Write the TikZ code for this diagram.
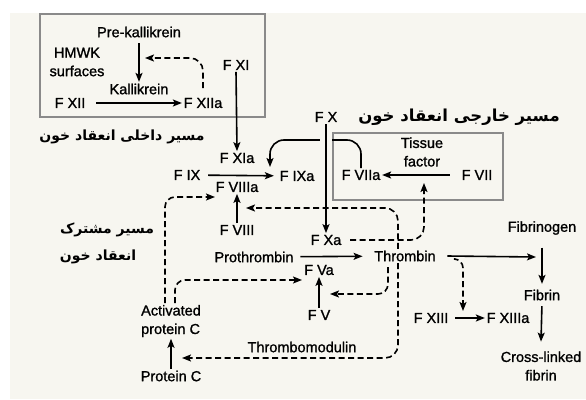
\documentclass[tikz,border=0pt]{standalone}
\usepackage{fontspec}
\setmainfont{Liberation Sans}[FakeBold=1.2]
\newfontfamily\fafont[Script=Arabic]{DejaVu Sans}
\TeXXeTstate=1
\usetikzlibrary{arrows.meta}
\definecolor{paper}{HTML}{F7F6F0}
\definecolor{frame}{HTML}{8A8A8A}
\tikzset{x=1pt, y=-1pt,
  every node/.style={font=\fontsize{14.5}{18.5}\selectfont, inner sep=1pt, align=center},
  every path/.style={line width=1.6pt},
  tip/.style={-{Stealth[length=9pt, width=7pt, inset=2pt]}},
  dash line/.style={tip, dash pattern=on 6pt off 3.5pt, rounded corners=13pt},
  fa/.style={font=\fafont\bfseries\fontsize{14}{16}\selectfont},
  frame/.style={draw=frame, line width=1.1pt}}

\begin{document}
\begin{tikzpicture}
  \useasboundingbox (0,0) rectangle (586,399);
  \fill[white] (0,0) rectangle (586,399);
  \fill[paper] (10,13) rectangle (586,399);
  \draw[frame] (40,14) rectangle (265,117);
  \draw[frame] (333,133) rectangle (503,200);

  \node (pk)    at (139, 32) {Pre-kallikrein};
  \node (hm)    at ( 77, 62) {HMWK\\surfaces};
  \node (ka)    at (139, 89) {Kallikrein};
  \node (xii)   at ( 70,103) {F XII};
  \node (xiia)  at (203,103) {F XIIa};
  \node (xi)    at (236, 65) {F XI};
  \node (xia)   at (237,158) {F XIa};
  \node (ix)    at (187,175) {F IX};
  \node (ixa)   at (297,176) {F IXa};
  \node (viiia) at (237,187) {F VIIIa};
  \node (viii)  at (237,230) {F VIII};
  \node (x)     at (326,117) {F X};
  \node (xa)    at (326,240) {F Xa};
  \node (tf)    at (422,152) {Tissue\\factor};
  \node (viia)  at (361,175) {F VIIa};
  \node (vii)   at (477,175) {F VII};
  \node (pt)    at (254,257) {Prothrombin};
  \node (th)    at (405,256) {Thrombin};
  \node (va)    at (319,270) {F Va};
  \node (v)     at (319,315) {F V};
  \node[align=left] (apc) at (171,321) {Activated\\protein C};
  \node (pc)    at (171,376) {Protein C};
  \node (tm)    at (302,347) {Thrombomodulin};
  \node (fg)    at (542,228) {Fibrinogen};
  \node (fb)    at (542,295) {Fibrin};
  \node (cl)    at (541,366) {Cross-linked\\fibrin};
  \node (xiii)  at (431,318) {F XIII};
  \node (xiiia) at (508,318) {F XIIIa};
  \node[fa] (intr) at (122,137) {\beginR مسیر داخلی انعقاد خون\endR};
  \node[fa, font=\fafont\bfseries\fontsize{16.5}{18}\selectfont] (extr) at (459,117) {\beginR مسیر خارجی انعقاد خون\endR};
  \node[fa] (com)  at (107,230) {\beginR مسیر مشترک\endR};
  \node[fa] (coag) at ( 98,257) {\beginR انعقاد خون\endR};

  \coordinate (kk)     at (145, 58);
  \coordinate (ixin)   at (270,167);
  \coordinate (arc)    at (315,140);
  \coordinate (tfin)   at (424,183);
  \coordinate (viiiin) at (246,208);
  \coordinate (viiiap) at (215,197);
  \coordinate (vin)    at (330,294);
  \coordinate (vain)   at (302,280);
  \coordinate (pcin)   at (182,358);
  \coordinate (fbin)   at (536,257);
  \coordinate (xiiiin) at (463,311);

  \draw[tip, shorten <=4pt] (pk.south) -- (ka.north);
  \draw[tip, shorten <=9pt] (xii) -- (xiia);
  \draw[dash line] ([yshift=8pt]xiia.north) |- (kk);
  \draw[tip] (xi.south) -- (xia.north);
  \draw[tip, shorten <=6pt, shorten >=4pt] (ix) -- (ixa);
  \draw[tip] (viii.north) -- (viiia.south);
  \draw[tip, rounded corners=14pt] (viia.north) |- (arc) -| (ixin);
  \draw[tip, preaction={draw=paper, line width=12pt, -}] (x.south) -- (xa.north);
  \draw[tip] ([xshift=-10pt]vii.west) -- (viia.east);
  \draw[tip, shorten <=5pt, shorten >=10pt] (pt) -- (th);
  \draw[tip] (v.north) -- (va.south);
  \draw[tip] (pc.north) -- (apc.south);
  \draw[tip] ([xshift=10pt]th.east) -- (fbin);
  \draw[tip, shorten <=11pt] (fg.south) -- ([yshift=4pt]fb.north);
  \draw[tip, shorten <=4pt] (fb.south) -- ([yshift=8pt]cl.north);
  \draw[tip, shorten <=5pt] (xiii) -- (xiiia);

  \draw[dash line] ([xshift=7pt]xa.east) -| (tfin);
  \draw[dash line] ([xshift=-7pt]th.north) |- (viiiin);
  \draw[dash line] ([xshift=-7pt]th.south) |- (pcin);
  \draw[dash line, rounded corners=10pt] ([xshift=-17pt, yshift=-4pt]th.south) |- (vin);
  \draw[dash line, rounded corners=10pt] ([xshift=4pt]apc.north) |- (vain);
  \draw[dash line, rounded corners=10pt] ([xshift=-6pt]apc.north) |- (viiiap);
  \draw[dash line, rounded corners=9pt] ([xshift=18pt, yshift=-3pt]th.east) -| (xiiiin);
\end{tikzpicture}
\end{document}
